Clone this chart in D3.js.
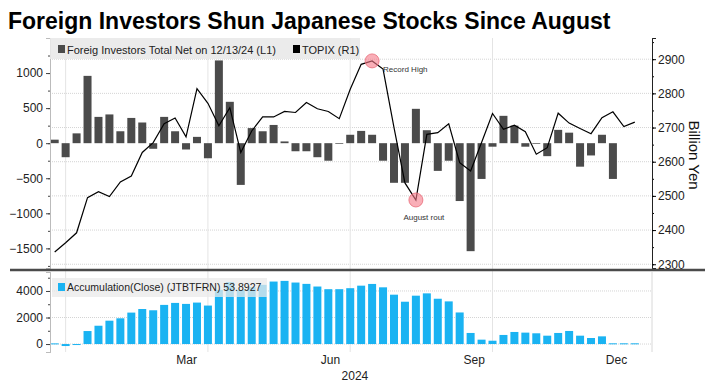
<!DOCTYPE html>
<html>
<head>
<meta charset="utf-8">
<script src="https://cdn.jsdelivr.net/npm/d3@7"></script>
<style>
  body { margin: 0; background: #fff; }
  svg { display: block; font-family: "Liberation Sans", Arial, sans-serif; }
</style>
</head>
<body>
<script>
// Weekly data (Friday closes), Dec 22 2023 -> Dec 27 2024
var weeks = d3.timeFriday.range(new Date(2023, 11, 22), new Date(2024, 11, 28));

// Foreign investors total net (billion yen), 52 weeks up to 12/13/24
var netFlows = [50, -200, 140, 960, 375, 410, 170, 360, 295, -80,
                375, 170, -90, 90, -215, 1180, 590, -595, 215, 170,
                260, 25, -115, -115, -200, -250, -10, 120, 175, 120,
                -250, -565, -565, 490, 185, -395, -250, -825, -1540, -510,
                -50, 390, 250, -50, -10, -185, 190, 150, -335, -175,
                120, -510];

// TOPIX weekly close
var topix = [2336, 2363, 2392, 2495, 2512, 2498, 2541, 2558, 2627, 2656,
             2711, 2728, 2673, 2814, 2771, 2705, 2758, 2627, 2690, 2731,
             2731, 2747, 2744, 2773, 2755, 2747, 2726, 2812, 2885, 2895,
             2871, 2700, 2538, 2488, 2680, 2685, 2711, 2597, 2573, 2656,
             2741, 2695, 2707, 2688, 2622, 2641, 2742, 2713, 2697, 2682,
             2729, 2746, 2703, 2716];

// Accumulation (JTBTFRN)
var accumulation = [50, -150, -10, 980, 1380, 1760, 1940, 2370, 2640, 2545,
                    2950, 3100, 3025, 3125, 2900, 4080, 4670, 4075, 4290, 4460,
                    4710, 4760, 4635, 4535, 4335, 4135, 4135, 4210, 4400, 4530,
                    4275, 3720, 3190, 3645, 3820, 3415, 3215, 2380, 835, 330,
                    250, 685, 910, 860, 810, 630, 835, 985, 630, 455,
                    580, 55, 55, 55];

// tick labels / axis positions
var leftTicks   = [-1500, -1000, -500, 0, 500, 1000];
var rightTicks  = [2300, 2400, 2500, 2600, 2700, 2800, 2900];
var bottomTicks = [0, 2000, 4000];
var quarterEnds = [new Date(2023, 11, 29), new Date(2024, 2, 29), new Date(2024, 5, 28), new Date(2024, 8, 27)];
var monthLabels = [new Date(2024, 2, 15), new Date(2024, 5, 15), new Date(2024, 8, 15), new Date(2024, 11, 15)];
var yearLabel   = new Date(2024, 6, 1);

var notes = [
  { date: new Date(2024, 6, 12), text: "Record High", side: "right" },
  { date: new Date(2024, 7, 9),  text: "August rout", side: "below" }
];

var WIDTH = 717, HEIGHT = 382;
var LEFT = 50, RIGHT = 652;
var TOP1 = 38, BOT1 = 268;   // upper panel
var TOP2 = 272, BOT2 = 352;  // lower panel
var fmt = d3.format('d');

var svg = d3.select('body').append('svg')
            .attr('width', WIDTH)
            .attr('height', HEIGHT);

var x = d3.scaleTime()
          .domain([new Date(2023, 11, 19), new Date(2025, 0, 7)])
          .range([LEFT, RIGHT]);

var yL = d3.scaleLinear().domain([-1780, 1500]).range([BOT1, TOP1]);
var yR = d3.scaleLinear().domain([2289, 2962]).range([BOT1, TOP1]);
var yB = d3.scaleLinear().domain([-600, 5430]).range([BOT2, TOP2]);

// title
svg.append('text')
   .attr('x', 8).attr('y', 29)
   .attr('font-size', 23).attr('font-weight', 'bold')
   .attr('fill', '#000')
   .text('Foreign Investors Shun Japanese Stocks Since August');

// ---- grid ----
var grid = svg.append('g');
grid.selectAll('line.hg')
    .data(rightTicks).enter().append('line')
    .attr('x1', LEFT).attr('x2', RIGHT)
    .attr('y1', function(d) { return yR(d); })
    .attr('y2', function(d) { return yR(d); })
    .attr('stroke', '#d4d4d4').attr('stroke-dasharray', '1,1');

grid.selectAll('line.bg')
    .data(bottomTicks).enter().append('line')
    .attr('x1', LEFT).attr('x2', RIGHT)
    .attr('y1', function(d) { return yB(d); })
    .attr('y2', function(d) { return yB(d); })
    .attr('stroke', '#d4d4d4').attr('stroke-dasharray', '1,1');

grid.selectAll('line.vg')
    .data(quarterEnds).enter().append('line')
    .attr('x1', function(d) { return x(d); })
    .attr('x2', function(d) { return x(d); })
    .attr('y1', TOP1).attr('y2', BOT2)
    .attr('stroke', '#e4e4e4');

grid.append('line')
    .attr('x1', RIGHT).attr('x2', RIGHT)
    .attr('y1', TOP2).attr('y2', BOT2)
    .attr('stroke', '#d8d8d8');

// ---- upper panel: net flow bars ----
var barW = 8;
svg.append('g').selectAll('rect')
   .data(netFlows).enter().append('rect')
   .attr('x', function(d, i) { return x(weeks[i]) - barW / 2; })
   .attr('y', function(d) { return yL(Math.max(0, d)); })
   .attr('width', barW)
   .attr('height', function(d) { return Math.abs(yL(d) - yL(0)); })
   .attr('fill', '#4b4b4b');

// TOPIX line
var line = d3.line()
             .x(function(d, i) { return x(weeks[i]); })
             .y(function(d) { return yR(d); });
svg.append('path')
   .datum(topix)
   .attr('d', line)
   .attr('fill', 'none')
   .attr('stroke', '#000')
   .attr('stroke-width', 1.2);

// annotations
notes.forEach(function(n) {
  var i = d3.bisector(function(d) { return d; }).left(weeks, n.date);
  var cx = x(weeks[i]), cy = yR(topix[i]);
  svg.append('circle')
     .attr('cx', cx).attr('cy', cy).attr('r', 7)
     .attr('fill', 'rgba(245,120,135,0.6)')
     .attr('stroke', '#e86b78').attr('stroke-width', 0.8);
  var t = svg.append('text')
     .attr('font-size', 8)
     .attr('font-family', 'Arial, "Liberation Sans", sans-serif')
     .attr('fill', '#333')
     .text(n.text);
  if (n.side === 'right') {
    t.attr('x', cx + 11).attr('y', cy + 11);
  } else {
    t.attr('x', cx + 8).attr('y', cy + 20).attr('text-anchor', 'middle');
  }
});

// ---- axes upper ----
var axL = svg.append('g').attr('transform', 'translate(' + LEFT + ',0)');
axL.call(d3.axisLeft(yL).tickValues(d3.range(-1750, 1501, 250)).tickSize(2).tickFormat(''));
axL.append('g').call(d3.axisLeft(yL).tickValues(leftTicks).tickSize(4).tickPadding(3).tickFormat(fmt));
axL.selectAll('.domain').attr('stroke', '#bbb');
axL.selectAll('text').attr('font-size', 12).attr('fill', '#222')
   .attr('font-family', '"Liberation Sans", Arial, sans-serif');
axL.selectAll('line').attr('stroke', '#444');

var axR = svg.append('g').attr('transform', 'translate(' + RIGHT + ',0)');
axR.call(d3.axisRight(yR).tickValues(d3.range(2300, 2951, 50)).tickSize(2).tickFormat(''));
axR.append('g').call(d3.axisRight(yR).tickValues(rightTicks).tickSize(4).tickPadding(2).tickFormat(fmt));
axR.selectAll('.domain').attr('stroke', '#222');
axR.selectAll('text').attr('font-size', 12).attr('fill', '#222')
   .attr('font-family', '"Liberation Sans", Arial, sans-serif');

svg.append('text')
   .attr('transform', 'translate(689,155) rotate(90)')
   .attr('text-anchor', 'middle')
   .attr('font-size', 15)
   .attr('fill', '#111')
   .text('Billion Yen');

// upper legend
var lg = svg.append('g');
lg.append('rect').attr('x', LEFT).attr('y', TOP1).attr('width', 310).attr('height', 21)
  .attr('fill', '#e9e9e9').attr('opacity', 0.9);
lg.append('rect').attr('x', 58).attr('y', 45).attr('width', 7).attr('height', 8).attr('fill', '#4b4b4b');
lg.append('text').attr('x', 67).attr('y', 53.5).attr('font-size', 11).attr('fill', '#222')
  .text('Foreig Investors Total Net on 12/13/24 (L1)');
lg.append('rect').attr('x', 293).attr('y', 45).attr('width', 7).attr('height', 8).attr('fill', '#000');
lg.append('text').attr('x', 302).attr('y', 53.5).attr('font-size', 11).attr('fill', '#222')
  .text('TOPIX (R1)');

// separator
svg.append('line')
   .attr('x1', 10).attr('x2', 705).attr('y1', 270).attr('y2', 270)
   .attr('stroke', '#4a4a4a').attr('stroke-width', 2.5);

// ---- lower panel: accumulation ----
svg.append('g').selectAll('rect')
   .data(accumulation).enter().append('rect')
   .attr('x', function(d, i) { return x(weeks[i]) - barW / 2; })
   .attr('y', function(d) { return yB(Math.max(0, d)); })
   .attr('width', barW)
   .attr('height', function(d) { return Math.max(1, Math.abs(yB(d) - yB(0))); })
   .attr('fill', '#1ab3f2');

var axB = svg.append('g').attr('transform', 'translate(' + LEFT + ',0)');
axB.call(d3.axisLeft(yB).tickValues([0, 1000, 2000, 3000, 4000, 5000]).tickSize(2).tickFormat(''));
axB.append('g').call(d3.axisLeft(yB).tickValues(bottomTicks).tickSize(4).tickPadding(3).tickFormat(fmt));
axB.selectAll('.domain').attr('stroke', '#bbb');
axB.selectAll('text').attr('font-size', 12).attr('fill', '#222')
   .attr('font-family', '"Liberation Sans", Arial, sans-serif');
axB.selectAll('line').attr('stroke', '#444');

// lower legend
var lg2 = svg.append('g');
lg2.append('rect').attr('x', LEFT + 2).attr('y', 278).attr('width', 215).attr('height', 19)
   .attr('fill', '#e9e9e9').attr('opacity', 0.75);
lg2.append('rect').attr('x', 58).attr('y', 283).attr('width', 7).attr('height', 8).attr('fill', '#1ab3f2');
lg2.append('text').attr('x', 67).attr('y', 291).attr('font-size', 10.5).attr('fill', '#222')
   .text('Accumulation(Close) (JTBTFRN) 53.8927');

// x axis labels
var axX = svg.append('g').attr('transform', 'translate(0,' + BOT2 + ')');
axX.call(d3.axisBottom(x).tickValues(monthLabels).tickSize(0).tickPadding(3)
           .tickFormat(d3.timeFormat('%b')));
axX.select('.domain').remove();
axX.selectAll('text').attr('font-size', 12).attr('fill', '#222')
   .attr('font-family', '"Liberation Sans", Arial, sans-serif');

svg.append('text')
   .attr('x', x(yearLabel)).attr('y', 380)
   .attr('text-anchor', 'middle')
   .attr('font-size', 12).attr('fill', '#222')
   .text('2024');
</script>
</body>
</html>
